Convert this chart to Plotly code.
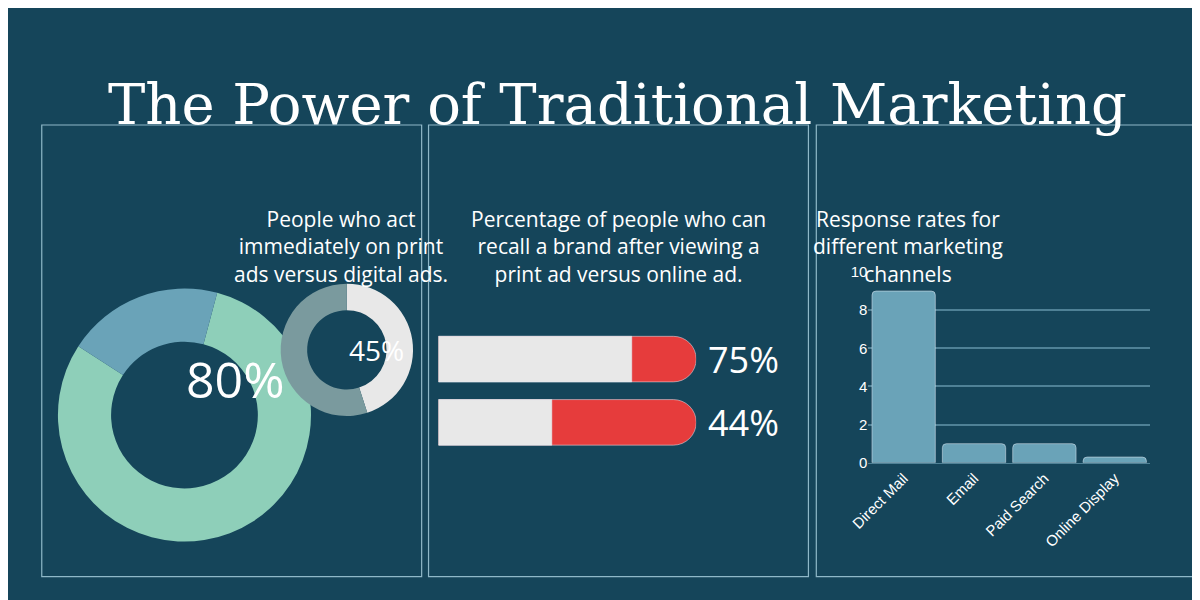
import plotly.graph_objects as go

# data
act_print = 80
act_digital = 45
recall_labels = ["Print ad", "Online ad"]
recall_values = [75, 44]
channels = ["Direct Mail", "Email", "Paid Search", "Online Display"]
response_rates = [9, 1, 1, 0.3]

BG = "#15455a"
WHITE = "#ffffff"
W, H = 1200, 600

def px(x):
    return x / W

def py(y):
    return 1 - y / H

fig = go.Figure()

# big donut
fig.add_trace(go.Pie(
    values=[act_print, 100 - act_print], hole=0.58, sort=False, direction="clockwise",
    rotation=15, marker=dict(colors=["#8ecfb9", "#6aa3b8"], line=dict(width=0)),
    textinfo="none", hoverinfo="skip", showlegend=False,
    domain=dict(x=[px(30), px(290)], y=[py(540), py(280)]),
))
# small donut
fig.add_trace(go.Pie(
    values=[act_digital, 100 - act_digital], hole=0.6, sort=False, direction="clockwise",
    rotation=0, marker=dict(colors=["#e8e8e8", "#7a9a9e"], line=dict(width=0)),
    textinfo="none", hoverinfo="skip", showlegend=False,
    domain=dict(x=[px(257), px(393)], y=[py(411), py(275)]),
))

# recall bars: red track behind, grey value on top
fig.add_trace(go.Bar(
    y=recall_labels, x=[100] * len(recall_values), orientation="h",
    marker=dict(color="#e63c3c", cornerradius="50%"), width=0.72,
    xaxis="x", yaxis="y", showlegend=False, hoverinfo="skip",
))
fig.add_trace(go.Bar(
    y=recall_labels, x=recall_values, orientation="h",
    marker=dict(color="#e8e8e8", cornerradius="50%"), width=0.72,
    xaxis="x", yaxis="y", showlegend=False, hoverinfo="skip",
))

# response rates
fig.add_trace(go.Bar(
    x=channels, y=response_rates, marker=dict(color="#6aa3b8", cornerradius=4),
    xaxis="x2", yaxis="y2", showlegend=False,
))

shapes = []
for x0, x1 in [(15, 401), (408, 794), (802, 1187)]:
    shapes.append(dict(type="rect", xref="paper", yref="paper",
                       x0=px(x0), x1=px(x1), y0=py(576), y1=py(112),
                       line=dict(color="#8fb8c8", width=1.2)))

def note(text, x, y, size, family="Open Sans"):
    return dict(text=text, x=px(x), y=py(y), xref="paper", yref="paper", showarrow=False,
                font=dict(family=family, size=size, color=WHITE))

annotations = [
    note("The Power of Traditional Marketing", 600, 55, 56, "DejaVu Serif"),
    note("People who act<br>immediately on print<br>ads versus digital ads.", 208, 192, 21),
    note("Percentage of people who can<br>recall a brand after viewing a<br>print ad versus online ad.", 601, 192, 21),
    note("Response rates for<br>different marketing<br>channels", 994, 192, 21),
    note(f"{act_print}%", 160, 410, 50),
    note(f"{act_digital}%", 325, 343, 28),
]
for lab, v in zip(recall_labels, recall_values):
    annotations.append(dict(text=f"{v}%", x=100, y=lab, xref="x", yref="y",
                            xanchor="left", xshift=10, showarrow=False,
                            font=dict(family="Open Sans", size=36, color=WHITE)))

fig.update_layout(
    width=W, height=H, margin=dict(l=0, r=0, t=0, b=0),
    paper_bgcolor=BG, plot_bgcolor=BG, barmode="overlay", bargap=0.1,
    shapes=shapes, annotations=annotations,
    xaxis=dict(domain=[px(418), px(680)], range=[0, 100], visible=False),
    yaxis=dict(domain=[py(450), py(320)], autorange="reversed", visible=False),
    xaxis2=dict(domain=[px(855), px(1141)], anchor="y2", showgrid=False,
                tickangle=-45, tickfont=dict(family="Liberation Sans", size=15, color=WHITE),
                showline=True, linecolor="#4f8196", ticks=""),
    yaxis2=dict(domain=[py(459), py(262)], anchor="x2", range=[0, 10.05], dtick=2,
                gridcolor="#4f8196", gridwidth=2, zeroline=False,
                tickfont=dict(family="Liberation Sans", size=15, color=WHITE)),
)

fig.write_html("out.html")
